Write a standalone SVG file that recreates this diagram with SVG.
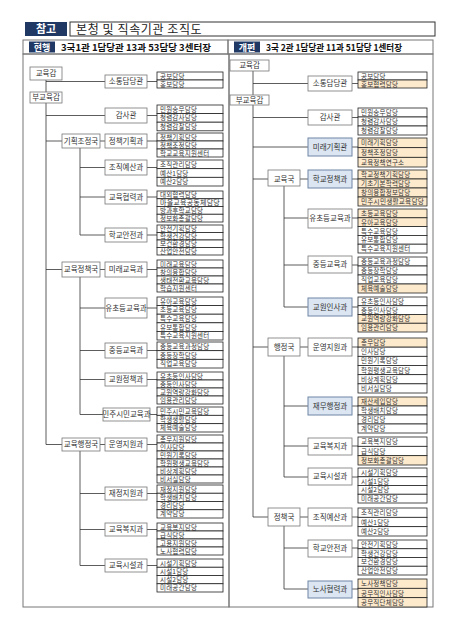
<svg xmlns="http://www.w3.org/2000/svg" width="452" height="627" viewBox="0 0 452 627">
<style>
.bd{fill:none;stroke:#777;stroke-width:1}
.nd{fill:#fff;stroke:#777;stroke-width:0.8}
.nb{fill:#dce6f2;stroke:#6f86a6;stroke-width:1}
.s{fill:#fff;stroke:#222;stroke-width:0.8}
.sb{fill:#fde9cc;stroke:#222;stroke-width:0.8}
.lab{fill:#1f3864}
text{font-family:"Noto Sans CJK KR","Noto Sans",sans-serif}
.n{font-size:7.5px;fill:#333;text-anchor:middle}
.t{font-size:6.5px;fill:#333;letter-spacing:0.2px}
.w{fill:#fff;font-weight:bold;text-anchor:middle}
.c line{stroke:#333;stroke-width:0.8}
</style>
<rect width="452" height="627" fill="#fff"/>
<g id="header">
<rect class="lab" x="25" y="22" width="42" height="14"/>
<text class="w" x="46" y="33" font-size="11">참고</text>
<rect x="70" y="22" width="365" height="14" fill="#fff" stroke="#333" stroke-width="1"/>
<text x="76" y="33.5" font-size="12" fill="#222" letter-spacing="0.6">본청 및 직속기관 조직도</text>
<rect class="bd" x="23" y="40" width="205" height="14"/>
<rect class="bd" x="228" y="40" width="205" height="14"/>
<rect class="lab" x="29" y="41.5" width="26" height="11"/>
<text class="w" x="42" y="50.5" font-size="9">현행</text>
<text x="61" y="51" font-size="9.5" font-weight="bold" fill="#111" textLength="150" lengthAdjust="spacingAndGlyphs">3국1관 1담당관 13과 53담당 3센터장</text>
<rect class="lab" x="234" y="41.5" width="26" height="11"/>
<text class="w" x="247" y="50.5" font-size="9">개편</text>
<text x="266" y="51" font-size="9.5" font-weight="bold" fill="#111" textLength="136" lengthAdjust="spacingAndGlyphs">3국 2관 1담당관 11과 51담당 1센터장</text>
<rect class="bd" x="23" y="54" width="206" height="553"/>
<rect class="bd" x="229" y="54" width="204" height="553"/>
</g>
<g id="connectors" class="c">
<line x1="46" y1="80" x2="46" y2="444.5"/>
<line x1="46" y1="81.5" x2="105" y2="81.5"/>
<line x1="46" y1="115.5" x2="105" y2="115.5"/>
<line x1="46" y1="141" x2="62" y2="141"/><line x1="100" y1="141" x2="105" y2="141"/>
<line x1="80" y1="148" x2="80" y2="235"/>
<line x1="80" y1="167.5" x2="105" y2="167.5"/>
<line x1="80" y1="197" x2="105" y2="197"/>
<line x1="80" y1="235" x2="105" y2="235"/>
<line x1="46" y1="269.5" x2="62" y2="269.5"/><line x1="100" y1="269.5" x2="105" y2="269.5"/>
<line x1="80" y1="277" x2="80" y2="414.5"/>
<line x1="80" y1="308" x2="105" y2="308"/>
<line x1="80" y1="350.5" x2="105" y2="350.5"/>
<line x1="80" y1="379.5" x2="105" y2="379.5"/>
<line x1="80" y1="414.5" x2="103" y2="414.5"/>
<line x1="46" y1="444.5" x2="62" y2="444.5"/><line x1="100" y1="444.5" x2="105" y2="444.5"/>
<line x1="80" y1="451" x2="80" y2="565.5"/>
<line x1="80" y1="493.5" x2="105" y2="493.5"/>
<line x1="80" y1="529.5" x2="105" y2="529.5"/>
<line x1="80" y1="565.5" x2="105" y2="565.5"/>
<line x1="147" y1="81.5" x2="157" y2="81.5"/>
<line x1="147" y1="115.5" x2="157" y2="115.5"/>
<line x1="147" y1="141" x2="157" y2="141"/>
<line x1="147" y1="167.5" x2="157" y2="167.5"/>
<line x1="147" y1="197" x2="157" y2="197"/>
<line x1="147" y1="235" x2="157" y2="235"/>
<line x1="147" y1="269.5" x2="157" y2="269.5"/>
<line x1="147" y1="308" x2="157" y2="308"/>
<line x1="147" y1="350.5" x2="157" y2="350.5"/>
<line x1="147" y1="379.5" x2="157" y2="379.5"/>
<line x1="150" y1="414.5" x2="157" y2="414.5"/>
<line x1="147" y1="444.5" x2="157" y2="444.5"/>
<line x1="147" y1="493.5" x2="157" y2="493.5"/>
<line x1="147" y1="529.5" x2="157" y2="529.5"/>
<line x1="147" y1="565.5" x2="157" y2="565.5"/>
<line x1="253" y1="71" x2="253" y2="517"/>
<line x1="253" y1="83.5" x2="308" y2="83.5"/>
<line x1="253" y1="117.5" x2="308" y2="117.5"/>
<line x1="253" y1="147" x2="308" y2="147"/>
<line x1="253" y1="179" x2="268" y2="179"/><line x1="300" y1="179" x2="308" y2="179"/>
<line x1="253" y1="347" x2="268" y2="347"/><line x1="300" y1="347" x2="308" y2="347"/>
<line x1="253" y1="517" x2="268" y2="517"/><line x1="300" y1="517" x2="308" y2="517"/>
<line x1="284" y1="186" x2="284" y2="307"/>
<line x1="284" y1="218" x2="308" y2="218"/>
<line x1="284" y1="265" x2="308" y2="265"/>
<line x1="284" y1="307" x2="308" y2="307"/>
<line x1="284" y1="356" x2="284" y2="477"/>
<line x1="284" y1="406" x2="308" y2="406"/>
<line x1="284" y1="446" x2="308" y2="446"/>
<line x1="284" y1="477" x2="308" y2="477"/>
<line x1="284" y1="526" x2="284" y2="589"/>
<line x1="284" y1="548" x2="308" y2="548"/>
<line x1="284" y1="589" x2="308" y2="589"/>
<line x1="352" y1="83.5" x2="358" y2="83.5"/>
<line x1="352" y1="117.5" x2="358" y2="117.5"/>
<line x1="352" y1="147" x2="358" y2="147"/>
<line x1="352" y1="179" x2="358" y2="179"/>
<line x1="352" y1="218" x2="358" y2="218"/>
<line x1="352" y1="265" x2="358" y2="265"/>
<line x1="352" y1="307" x2="358" y2="307"/>
<line x1="352" y1="347" x2="358" y2="347"/>
<line x1="352" y1="406" x2="358" y2="406"/>
<line x1="352" y1="446" x2="358" y2="446"/>
<line x1="352" y1="477" x2="358" y2="477"/>
<line x1="352" y1="517" x2="358" y2="517"/>
<line x1="352" y1="548" x2="358" y2="548"/>
<line x1="352" y1="589" x2="358" y2="589"/>
</g>
<!-- LEFT: current -->
<g id="L-교육감"><rect class="nd" x="30" y="67" width="32" height="13"/><text class="n" x="46" y="76.3">교육감</text></g>
<g id="L-부교육감"><rect class="nd" x="30" y="92" width="32" height="11"/><text class="n" x="46" y="100.3">부교육감</text></g>
<g id="L-기획조정국"><rect class="nd" x="62" y="134" width="38" height="14"/><text class="n" x="81" y="143.6">기획조정국</text></g>
<g id="L-교육정책국"><rect class="nd" x="62" y="262" width="38" height="15"/><text class="n" x="81" y="272.2">교육정책국</text></g>
<g id="L-교육행정국"><rect class="nd" x="62" y="438" width="38" height="13"/><text class="n" x="81" y="447.2">교육행정국</text></g>
<g id="L-소통담당관"><rect class="nd" x="105" y="75" width="42" height="13"/><text class="n" x="126" y="84.2">소통담당관</text>
<rect class="s" x="157" y="72" width="66" height="8"/><text class="t" x="160" y="78.5">공보담당</text>
<rect class="s" x="157" y="80" width="66" height="8"/><text class="t" x="160" y="86.5">홍보담당</text></g>
<g id="L-감사관"><rect class="nd" x="105" y="108" width="42" height="15"/><text class="n" x="126" y="118.2">감사관</text>
<rect class="s" x="157" y="105" width="66" height="8.6"/><text class="t" x="160" y="111.8">민원송무담당</text>
<rect class="s" x="157" y="113.6" width="66" height="8.6"/><text class="t" x="160" y="120.4">청렴감사담당</text>
<rect class="s" x="157" y="122.2" width="66" height="8.6"/><text class="t" x="160" y="129">청렴감찰담당</text></g>
<g id="L-정책기획과"><rect class="nd" x="105" y="134" width="42" height="14"/><text class="n" x="126" y="143.6">정책기획과</text>
<rect class="s" x="157" y="133" width="66" height="8"/><text class="t" x="160" y="139.5">정책기획담당</text>
<rect class="s" x="157" y="141" width="66" height="8"/><text class="t" x="160" y="147.5">정책조정담당</text>
<rect class="s" x="157" y="149" width="66" height="8"/><text class="t" x="160" y="155.5">학교교육지원센터</text></g>
<g id="L-조직예산과"><rect class="nd" x="105" y="160" width="42" height="15"/><text class="n" x="126" y="170.2">조직예산과</text>
<rect class="s" x="157" y="160" width="66" height="8.67"/><text class="t" x="160" y="166.8">조직관리담당</text>
<rect class="s" x="157" y="168.67" width="66" height="8.67"/><text class="t" x="160" y="175.5">예산1담당</text>
<rect class="s" x="157" y="177.33" width="66" height="8.67"/><text class="t" x="160" y="184.2">예산2담당</text></g>
<g id="L-교육협력과"><rect class="nd" x="105" y="190" width="42" height="14"/><text class="n" x="126" y="199.6">교육협력과</text>
<rect class="s" x="157" y="191" width="66" height="7.75"/><text class="t" x="160" y="197.3">대외협력담당</text>
<rect class="s" x="157" y="198.75" width="66" height="7.75"/><text class="t" x="160" y="205" textLength="60" lengthAdjust="spacingAndGlyphs">마을교육공동체담당</text>
<rect class="s" x="157" y="206.5" width="66" height="7.75"/><text class="t" x="160" y="212.8">방과후학교담당</text>
<rect class="s" x="157" y="214.25" width="66" height="7.75"/><text class="t" x="160" y="220.5">정보화총괄담당</text></g>
<g id="L-학교안전과"><rect class="nd" x="105" y="228" width="42" height="14"/><text class="n" x="126" y="237.6">학교안전과</text>
<rect class="s" x="157" y="225" width="66" height="7.5"/><text class="t" x="160" y="231.2">안전기획담당</text>
<rect class="s" x="157" y="232.5" width="66" height="7.5"/><text class="t" x="160" y="238.7">학생건강담당</text>
<rect class="s" x="157" y="240" width="66" height="7.5"/><text class="t" x="160" y="246.2">보건환경담당</text>
<rect class="s" x="157" y="247.5" width="66" height="7.5"/><text class="t" x="160" y="253.7">산업안전담당</text></g>
<g id="L-미래교육과"><rect class="nd" x="105" y="262" width="42" height="15"/><text class="n" x="126" y="272.2">미래교육과</text>
<rect class="s" x="157" y="260" width="66" height="8"/><text class="t" x="160" y="266.5">미래교육담당</text>
<rect class="s" x="157" y="268" width="66" height="8"/><text class="t" x="160" y="274.5">창의융합담당</text>
<rect class="s" x="157" y="276" width="66" height="8"/><text class="t" x="160" y="282.5">생태전환교육담당</text>
<rect class="s" x="157" y="284" width="66" height="8"/><text class="t" x="160" y="290.5">학습지원센터</text></g>
<g id="L-유초등교육과"><rect class="nd" x="105" y="298" width="42" height="20"/><text class="n" x="126" y="310.6">유초등교육과</text>
<rect class="s" x="157" y="297" width="66" height="8.6"/><text class="t" x="160" y="303.8">유아교육담당</text>
<rect class="s" x="157" y="305.6" width="66" height="8.6"/><text class="t" x="160" y="312.4">초등교육담당</text>
<rect class="s" x="157" y="314.2" width="66" height="8.6"/><text class="t" x="160" y="321">특수교육담당</text>
<rect class="s" x="157" y="322.8" width="66" height="8.6"/><text class="t" x="160" y="329.6">유보통합담당</text>
<rect class="s" x="157" y="331.4" width="66" height="8.6"/><text class="t" x="160" y="338.2">특수교육지원센터</text></g>
<g id="L-중등교육과"><rect class="nd" x="105" y="343" width="42" height="15"/><text class="n" x="126" y="353.2">중등교육과</text>
<rect class="s" x="157" y="342" width="66" height="8.67"/><text class="t" x="160" y="348.8">중등교육과정담당</text>
<rect class="s" x="157" y="350.67" width="66" height="8.67"/><text class="t" x="160" y="357.5">중등장학담당</text>
<rect class="s" x="157" y="359.33" width="66" height="8.67"/><text class="t" x="160" y="366.2">직업교육담당</text></g>
<g id="L-교원정책과"><rect class="nd" x="105" y="373" width="42" height="13"/><text class="n" x="126" y="382.2">교원정책과</text>
<rect class="s" x="157" y="372" width="66" height="8"/><text class="t" x="160" y="378.5">유초등인사담당</text>
<rect class="s" x="157" y="380" width="66" height="8"/><text class="t" x="160" y="386.5">중등인사담당</text>
<rect class="s" x="157" y="388" width="66" height="8"/><text class="t" x="160" y="394.5">교원역량강화담당</text>
<rect class="s" x="157" y="396" width="66" height="8"/><text class="t" x="160" y="402.5">임용관리담당</text></g>
<g id="L-민주시민교육과"><rect class="nd" x="103" y="408" width="47" height="13"/><text class="n" x="126.5" y="417.2">민주시민교육과</text>
<rect class="s" x="157" y="407" width="66" height="8.33"/><text class="t" x="160" y="413.7">민주시민교육담당</text>
<rect class="s" x="157" y="415.33" width="66" height="8.33"/><text class="t" x="160" y="422">학생생활담당</text>
<rect class="s" x="157" y="423.67" width="66" height="8.33"/><text class="t" x="160" y="430.3">체육예술담당</text></g>
<g id="L-운영지원과"><rect class="nd" x="105" y="438" width="42" height="13"/><text class="n" x="126" y="447.2">운영지원과</text>
<rect class="s" x="157" y="435" width="66" height="8"/><text class="t" x="160" y="441.5">총무지원담당</text>
<rect class="s" x="157" y="443" width="66" height="8"/><text class="t" x="160" y="449.5">인사담당</text>
<rect class="s" x="157" y="451" width="66" height="8"/><text class="t" x="160" y="457.5">민원기록담당</text>
<rect class="s" x="157" y="459" width="66" height="8"/><text class="t" x="160" y="465.5">학원평생교육담당</text>
<rect class="s" x="157" y="467" width="66" height="8"/><text class="t" x="160" y="473.5">비상계획담당</text>
<rect class="s" x="157" y="475" width="66" height="8"/><text class="t" x="160" y="481.5">비서실담당</text></g>
<g id="L-재정지원과"><rect class="nd" x="105" y="487" width="42" height="13"/><text class="n" x="126" y="496.2">재정지원과</text>
<rect class="s" x="157" y="485" width="66" height="8.25"/><text class="t" x="160" y="491.6">재정지원담당</text>
<rect class="s" x="157" y="493.25" width="66" height="8.25"/><text class="t" x="160" y="499.9">학생배치담당</text>
<rect class="s" x="157" y="501.5" width="66" height="8.25"/><text class="t" x="160" y="508.1">경리담당</text>
<rect class="s" x="157" y="509.75" width="66" height="8.25"/><text class="t" x="160" y="516.4">계약담당</text></g>
<g id="L-교육복지과"><rect class="nd" x="105" y="523" width="42" height="13"/><text class="n" x="126" y="532.2">교육복지과</text>
<rect class="s" x="157" y="523" width="66" height="8"/><text class="t" x="160" y="529.5">교육복지담당</text>
<rect class="s" x="157" y="531" width="66" height="8"/><text class="t" x="160" y="537.5">급식담당</text>
<rect class="s" x="157" y="539" width="66" height="8"/><text class="t" x="160" y="545.5">고용지원담당</text>
<rect class="s" x="157" y="547" width="66" height="8"/><text class="t" x="160" y="553.5">노사협력담당</text></g>
<g id="L-교육시설과"><rect class="nd" x="105" y="559" width="42" height="13"/><text class="n" x="126" y="568.2">교육시설과</text>
<rect class="s" x="157" y="559" width="66" height="8.25"/><text class="t" x="160" y="565.6">시설기획담당</text>
<rect class="s" x="157" y="567.25" width="66" height="8.25"/><text class="t" x="160" y="573.9">시설1담당</text>
<rect class="s" x="157" y="575.5" width="66" height="8.25"/><text class="t" x="160" y="582.1">시설2담당</text>
<rect class="s" x="157" y="583.75" width="66" height="8.25"/><text class="t" x="160" y="590.4">미래공간담당</text></g>
<!-- RIGHT: reorganized -->
<g id="R-교육감"><rect class="nd" x="230" y="60" width="39" height="11"/><text class="n" x="249.5" y="68.3">교육감</text></g>
<g id="R-부교육감"><rect class="nd" x="230" y="95" width="39" height="10"/><text class="n" x="249.5" y="102.8">부교육감</text></g>
<g id="R-교육국"><rect class="nd" x="268" y="170" width="32" height="16"/><text class="n" x="284" y="181.6">교육국</text></g>
<g id="R-행정국"><rect class="nd" x="268" y="338" width="32" height="18"/><text class="n" x="284" y="349.6">행정국</text></g>
<g id="R-정책국"><rect class="nd" x="268" y="508" width="32" height="18"/><text class="n" x="284" y="519.6">정책국</text></g>
<g id="R-소통담당관"><rect class="nd" x="308" y="76" width="44" height="15"/><text class="n" x="330" y="86.1">소통담당관</text>
<rect class="s" x="358" y="72" width="69" height="8"/><text class="t" x="361" y="78.5">공보담당</text>
<rect class="sb" x="358" y="80" width="69" height="8"/><text class="t" x="361" y="86.5">홍보협력담당</text></g>
<g id="R-감사관"><rect class="nd" x="308" y="110" width="44" height="15"/><text class="n" x="330" y="120.1">감사관</text>
<rect class="s" x="358" y="108" width="69" height="9"/><text class="t" x="361" y="115">민원송무담당</text>
<rect class="s" x="358" y="117" width="69" height="9"/><text class="t" x="361" y="124">청렴감사담당</text>
<rect class="s" x="358" y="126" width="69" height="9"/><text class="t" x="361" y="133">청렴감찰담당</text></g>
<g id="R-미래기획관"><rect class="nb" x="308" y="138" width="44" height="18"/><text class="n" x="330" y="149.6">미래기획관</text>
<rect class="sb" x="358" y="138" width="69" height="9.67"/><text class="t" x="361" y="145.3">미래기획담당</text>
<rect class="sb" x="358" y="147.67" width="69" height="9.67"/><text class="t" x="361" y="155">정책조정담당</text>
<rect class="sb" x="358" y="157.33" width="69" height="9.67"/><text class="t" x="361" y="164.7">교육정책연구소</text></g>
<g id="R-학교정책과"><rect class="nb" x="308" y="170" width="44" height="18"/><text class="n" x="330" y="181.6">학교정책과</text>
<rect class="sb" x="358" y="170" width="69" height="9"/><text class="t" x="361" y="177">학교정책기획담당</text>
<rect class="sb" x="358" y="179" width="69" height="9"/><text class="t" x="361" y="186">기초기본학력담당</text>
<rect class="sb" x="358" y="188" width="69" height="9"/><text class="t" x="361" y="195">창의융합정보담당</text>
<rect class="sb" x="358" y="197" width="69" height="9"/><text class="t" x="361" y="204" textLength="63" lengthAdjust="spacingAndGlyphs">민주시민생활교육담당</text></g>
<g id="R-유초등교육과"><rect class="nd" x="308" y="209" width="44" height="19"/><text class="n" x="330" y="221.1">유초등교육과</text>
<rect class="sb" x="358" y="209" width="69" height="8.8"/><text class="t" x="361" y="215.9">초등교육담당</text>
<rect class="sb" x="358" y="217.8" width="69" height="8.8"/><text class="t" x="361" y="224.7">유아교육담당</text>
<rect class="s" x="358" y="226.6" width="69" height="8.8"/><text class="t" x="361" y="233.5">특수교육담당</text>
<rect class="s" x="358" y="235.4" width="69" height="8.8"/><text class="t" x="361" y="242.3">유보통합담당</text>
<rect class="s" x="358" y="244.2" width="69" height="8.8"/><text class="t" x="361" y="251.1">특수교육지원센터</text></g>
<g id="R-중등교육과"><rect class="nd" x="308" y="256" width="44" height="17"/><text class="n" x="330" y="267.1">중등교육과</text>
<rect class="s" x="358" y="257" width="69" height="9"/><text class="t" x="361" y="264">중등교육과정담당</text>
<rect class="s" x="358" y="266" width="69" height="9"/><text class="t" x="361" y="273">중등장학담당</text>
<rect class="s" x="358" y="275" width="69" height="9"/><text class="t" x="361" y="282">직업교육담당</text>
<rect class="sb" x="358" y="284" width="69" height="9"/><text class="t" x="361" y="291">체육예술담당</text></g>
<g id="R-교원인사과"><rect class="nb" x="308" y="298" width="44" height="18"/><text class="n" x="330" y="309.6">교원인사과</text>
<rect class="s" x="358" y="297" width="69" height="8.75"/><text class="t" x="361" y="303.9">유초등인사담당</text>
<rect class="s" x="358" y="305.75" width="69" height="8.75"/><text class="t" x="361" y="312.6">중등인사담당</text>
<rect class="sb" x="358" y="314.5" width="69" height="8.75"/><text class="t" x="361" y="321.4">교원역량강화담당</text>
<rect class="sb" x="358" y="323.25" width="69" height="8.75"/><text class="t" x="361" y="330.1">임용관리담당</text></g>
<g id="R-운영지원과"><rect class="nd" x="308" y="338" width="44" height="18"/><text class="n" x="330" y="349.6">운영지원과</text>
<rect class="sb" x="358" y="338" width="69" height="9.17"/><text class="t" x="361" y="345.1">총무담당</text>
<rect class="s" x="358" y="347.17" width="69" height="9.17"/><text class="t" x="361" y="354.3">인사담당</text>
<rect class="s" x="358" y="356.33" width="69" height="9.17"/><text class="t" x="361" y="363.4">민원기록담당</text>
<rect class="s" x="358" y="365.5" width="69" height="9.17"/><text class="t" x="361" y="372.6">학원평생교육담당</text>
<rect class="s" x="358" y="374.67" width="69" height="9.17"/><text class="t" x="361" y="381.8">비상계획담당</text>
<rect class="s" x="358" y="383.83" width="69" height="9.17"/><text class="t" x="361" y="390.9">비서실담당</text></g>
<g id="R-재무행정과"><rect class="nb" x="308" y="397" width="44" height="18"/><text class="n" x="330" y="408.6">재무행정과</text>
<rect class="sb" x="358" y="397" width="69" height="9"/><text class="t" x="361" y="404">재산세입담당</text>
<rect class="s" x="358" y="406" width="69" height="9"/><text class="t" x="361" y="413">학생배치담당</text>
<rect class="s" x="358" y="415" width="69" height="9"/><text class="t" x="361" y="422">경리담당</text>
<rect class="s" x="358" y="424" width="69" height="9"/><text class="t" x="361" y="431">계약담당</text></g>
<g id="R-교육복지과"><rect class="nd" x="308" y="438" width="44" height="17"/><text class="n" x="330" y="449.1">교육복지과</text>
<rect class="s" x="358" y="437" width="69" height="9.33"/><text class="t" x="361" y="444.2">교육복지담당</text>
<rect class="s" x="358" y="446.33" width="69" height="9.33"/><text class="t" x="361" y="453.5">급식담당</text>
<rect class="sb" x="358" y="455.67" width="69" height="9.33"/><text class="t" x="361" y="462.8">정보화총괄담당</text></g>
<g id="R-교육시설과"><rect class="nd" x="308" y="468" width="44" height="17"/><text class="n" x="330" y="479.1">교육시설과</text>
<rect class="s" x="358" y="468" width="69" height="8.75"/><text class="t" x="361" y="474.9">시설기획담당</text>
<rect class="s" x="358" y="476.75" width="69" height="8.75"/><text class="t" x="361" y="483.6">시설1담당</text>
<rect class="s" x="358" y="485.5" width="69" height="8.75"/><text class="t" x="361" y="492.4">시설2담당</text>
<rect class="s" x="358" y="494.25" width="69" height="8.75"/><text class="t" x="361" y="501.1">미래공간담당</text></g>
<g id="R-조직예산과"><rect class="nd" x="308" y="508" width="44" height="18"/><text class="n" x="330" y="519.6">조직예산과</text>
<rect class="s" x="358" y="508" width="69" height="9.33"/><text class="t" x="361" y="515.2">조직관리담당</text>
<rect class="s" x="358" y="517.33" width="69" height="9.33"/><text class="t" x="361" y="524.5">예산1담당</text>
<rect class="s" x="358" y="526.67" width="69" height="9.33"/><text class="t" x="361" y="533.8">예산2담당</text></g>
<g id="R-학교안전과"><rect class="nd" x="308" y="540" width="44" height="17"/><text class="n" x="330" y="551.1">학교안전과</text>
<rect class="s" x="358" y="540" width="69" height="8.75"/><text class="t" x="361" y="546.9">안전기획담당</text>
<rect class="s" x="358" y="548.75" width="69" height="8.75"/><text class="t" x="361" y="555.6">학생건강담당</text>
<rect class="s" x="358" y="557.5" width="69" height="8.75"/><text class="t" x="361" y="564.4">보건환경담당</text>
<rect class="s" x="358" y="566.25" width="69" height="8.75"/><text class="t" x="361" y="573.1">산업안전담당</text></g>
<g id="R-노사협력과"><rect class="nb" x="308" y="581" width="44" height="17"/><text class="n" x="330" y="592.1">노사협력과</text>
<rect class="sb" x="358" y="579" width="69" height="9.33"/><text class="t" x="361" y="586.2">노사정책담당</text>
<rect class="sb" x="358" y="588.33" width="69" height="9.33"/><text class="t" x="361" y="595.5">공무직인사담당</text>
<rect class="sb" x="358" y="597.67" width="69" height="9.33"/><text class="t" x="361" y="604.8">공무직단체담당</text></g>
</svg>
